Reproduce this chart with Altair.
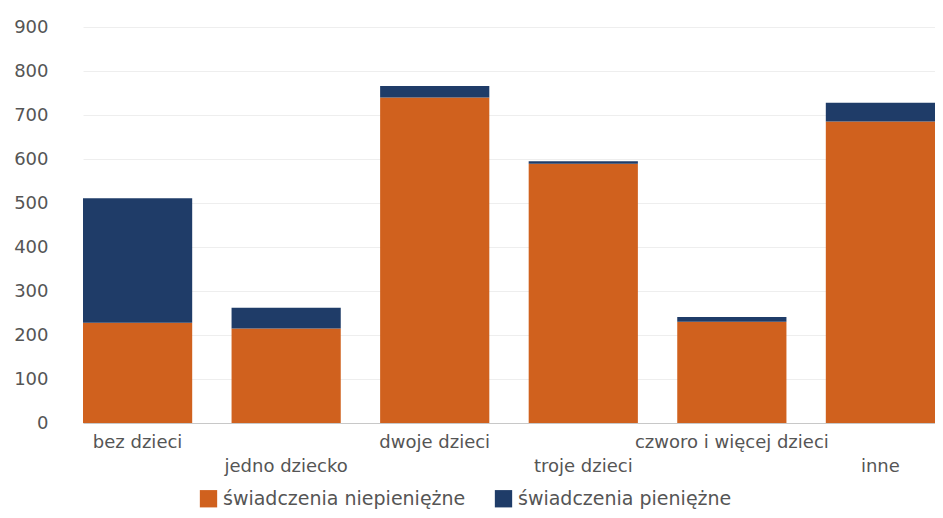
import altair as alt
import pandas as pd

categories = ["bez dzieci", "jedno dziecko", "dwoje dzieci", "troje dzieci",
              "czworo i więcej dzieci", "inne"]
niepieniezne = [228, 215, 740, 589, 230, 685]
pieniezne = [283, 47, 26, 6, 11, 43]
series = ["świadczenia niepieniężne", "świadczenia pieniężne"]
colors = ["#D0611E", "#1F3C68"]
lower_row = categories[1::2]

rows = []
for c, a, b in zip(categories, niepieniezne, pieniezne):
    rows.append({"kat": c, "seria": series[0], "wartosc": a, "ord": 0})
    rows.append({"kat": c, "seria": series[1], "wartosc": b, "ord": 1})
df = pd.DataFrame(rows)

lower_js = "[" + ",".join("'" + s + "'" for s in lower_row) + "]"
font = "DejaVu Sans"

chart = alt.Chart(df).mark_bar().encode(
    x=alt.X("kat:N", sort=categories, title=None,
            scale=alt.Scale(paddingInner=0.265, paddingOuter=0.0),
            axis=alt.Axis(labelAngle=0, labelFont=font, labelFontSize=18,
                          labelColor="#555555", ticks=False, domain=True,
                          domainColor="#c8c8c8", labelPadding=10,
                          labelLineHeight=24, labelLimit=0,
                          labelExpr=f"indexof({lower_js}, datum.value) >= 0 ? ['', datum.label] : datum.label")),
    y=alt.Y("wartosc:Q", stack="zero", title=None,
            scale=alt.Scale(domain=[0, 900]),
            axis=alt.Axis(values=[0, 100, 200, 300, 400, 500, 600, 700, 800, 900],
                          labelFont=font, labelFontSize=18, labelColor="#555555",
                          ticks=False, domain=False, labelPadding=35,
                          gridColor="#eeeeee", gridWidth=1)),
    color=alt.Color("seria:N", sort=series,
                    scale=alt.Scale(domain=series, range=colors),
                    legend=alt.Legend(title=None, orient="none", direction="horizontal",
                                      legendX=116, legendY=462,
                                      symbolType="square", symbolSize=300,
                                      symbolStrokeWidth=0, labelLimit=0,
                                      labelFont=font, labelFontSize=19,
                                      labelColor="#555555", columnPadding=28,
                                      labelOffset=5)),
    order=alt.Order("ord:Q"),
).properties(
    width=852, height=396,
    padding={"left": 5, "top": 10, "right": 0, "bottom": 0},
).configure_view(stroke=None)

chart.save("out.html", embed_options={"renderer": "svg", "actions": False})
